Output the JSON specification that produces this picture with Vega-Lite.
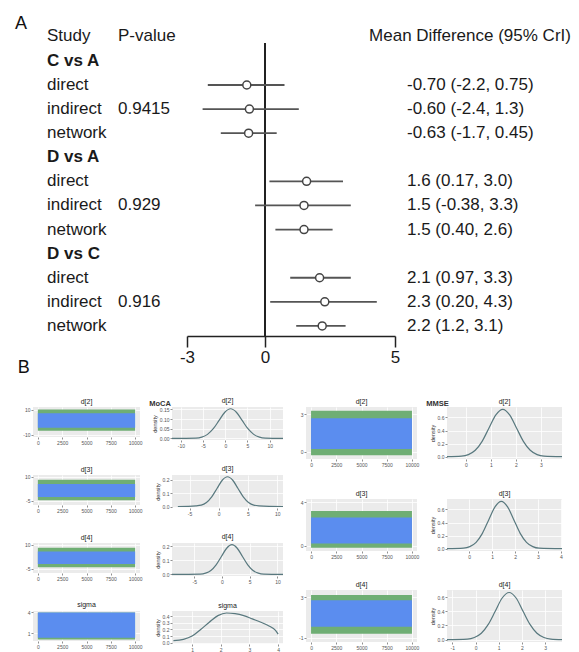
{
  "$schema": "https://vega.github.io/schema/vega-lite/v6.json",
  "padding": {"left": 15, "top": 15, "right": 5, "bottom": 0},
  "spacing": -6,
  "config": {
    "font": "Liberation Sans",
    "view": {"stroke": null},
    "title": {"fontSize": 7, "fontWeight": "normal", "color": "#222222", "offset": 2},
    "axis": {
      "grid": true, "gridColor": "#ffffff", "gridWidth": 0.8,
      "domain": false, "tickColor": "#444444", "tickSize": 2, "tickWidth": 0.6,
      "labelFontSize": 5, "labelColor": "#555555", "labelPadding": 1, "labelOverlap": false,
      "titleFontSize": 5.5, "titleColor": "#333333", "titleFontWeight": "normal", "titlePadding": 2
    }
  },
  "datasets": {
    "forest": [
      {"key": "CvA", "label": "C vs A", "kind": "header"},
      {"key": "CvA-d", "label": "direct", "kind": "item", "est": -0.70, "lo": -2.2, "hi": 0.75, "md": "-0.70 (-2.2, 0.75)"},
      {"key": "CvA-i", "label": "indirect", "kind": "item", "pval": "0.9415", "est": -0.60, "lo": -2.4, "hi": 1.3, "md": "-0.60 (-2.4, 1.3)"},
      {"key": "CvA-n", "label": "network", "kind": "item", "est": -0.63, "lo": -1.7, "hi": 0.45, "md": "-0.63 (-1.7, 0.45)"},
      {"key": "DvA", "label": "D vs A", "kind": "header"},
      {"key": "DvA-d", "label": "direct", "kind": "item", "est": 1.6, "lo": 0.17, "hi": 3.0, "md": "1.6 (0.17, 3.0)"},
      {"key": "DvA-i", "label": "indirect", "kind": "item", "pval": "0.929", "est": 1.5, "lo": -0.38, "hi": 3.3, "md": "1.5 (-0.38, 3.3)"},
      {"key": "DvA-n", "label": "network", "kind": "item", "est": 1.5, "lo": 0.40, "hi": 2.6, "md": "1.5 (0.40, 2.6)"},
      {"key": "DvC", "label": "D vs C", "kind": "header"},
      {"key": "DvC-d", "label": "direct", "kind": "item", "est": 2.1, "lo": 0.97, "hi": 3.3, "md": "2.1 (0.97, 3.3)"},
      {"key": "DvC-i", "label": "indirect", "kind": "item", "pval": "0.916", "est": 2.3, "lo": 0.20, "hi": 4.3, "md": "2.3 (0.20, 4.3)"},
      {"key": "DvC-n", "label": "network", "kind": "item", "est": 2.2, "lo": 1.2, "hi": 3.1, "md": "2.2 (1.2, 3.1)"}
    ],
    "trace": [
      {"panel": "MoCA d[2]", "x0": 0, "x1": 10000, "outerLo": -7, "outerHi": 10, "lo": -4.5, "hi": 7},
      {"panel": "MoCA d[3]", "x0": 0, "x1": 10000, "outerLo": -4.5, "outerHi": 8, "lo": -2.5, "hi": 5.5},
      {"panel": "MoCA d[4]", "x0": 0, "x1": 10000, "outerLo": -4, "outerHi": 8, "lo": -2, "hi": 5.8},
      {"panel": "MoCA sigma", "x0": 0, "x1": 10000, "outerLo": 0.1, "outerHi": 4.0, "lo": 0.35, "hi": 4.0},
      {"panel": "MMSE d[2]", "x0": 0, "x1": 10000, "outerLo": -0.3, "outerHi": 3.3, "lo": 0.2, "hi": 2.7},
      {"panel": "MMSE d[3]", "x0": 0, "x1": 10000, "outerLo": -0.2, "outerHi": 3.2, "lo": 0.2, "hi": 2.6},
      {"panel": "MMSE d[4]", "x0": 0, "x1": 10000, "outerLo": -0.6, "outerHi": 3.2, "lo": 0.1, "hi": 2.7}
    ],
    "density": [
      {"panel": "MoCA d[2]", "x": -12, "density": 0},
      {"panel": "MoCA d[2]", "x": -6.6, "density": 0.002},
      {"panel": "MoCA d[2]", "x": -5.3, "density": 0.007},
      {"panel": "MoCA d[2]", "x": -4, "density": 0.021},
      {"panel": "MoCA d[2]", "x": -2.7, "density": 0.05},
      {"panel": "MoCA d[2]", "x": -1.4, "density": 0.093},
      {"panel": "MoCA d[2]", "x": -0.1, "density": 0.135},
      {"panel": "MoCA d[2]", "x": 1.2, "density": 0.153},
      {"panel": "MoCA d[2]", "x": 2.5, "density": 0.135},
      {"panel": "MoCA d[2]", "x": 3.8, "density": 0.093},
      {"panel": "MoCA d[2]", "x": 5.1, "density": 0.05},
      {"panel": "MoCA d[2]", "x": 6.4, "density": 0.021},
      {"panel": "MoCA d[2]", "x": 7.7, "density": 0.007},
      {"panel": "MoCA d[2]", "x": 9, "density": 0.002},
      {"panel": "MoCA d[2]", "x": 13, "density": 0},
      {"panel": "MoCA d[3]", "x": -7, "density": 0},
      {"panel": "MoCA d[3]", "x": -3.9, "density": 0.005},
      {"panel": "MoCA d[3]", "x": -3.0, "density": 0.01},
      {"panel": "MoCA d[3]", "x": -2.1, "density": 0.03},
      {"panel": "MoCA d[3]", "x": -1.2, "density": 0.072},
      {"panel": "MoCA d[3]", "x": -0.3, "density": 0.134},
      {"panel": "MoCA d[3]", "x": 0.6, "density": 0.196},
      {"panel": "MoCA d[3]", "x": 1.5, "density": 0.222},
      {"panel": "MoCA d[3]", "x": 2.4, "density": 0.196},
      {"panel": "MoCA d[3]", "x": 3.3, "density": 0.134},
      {"panel": "MoCA d[3]", "x": 4.2, "density": 0.072},
      {"panel": "MoCA d[3]", "x": 5.1, "density": 0.03},
      {"panel": "MoCA d[3]", "x": 6.0, "density": 0.01},
      {"panel": "MoCA d[3]", "x": 6.9, "density": 0.005},
      {"panel": "MoCA d[3]", "x": 11, "density": 0},
      {"panel": "MoCA d[4]", "x": -9, "density": 0},
      {"panel": "MoCA d[4]", "x": -3.9, "density": 0.002},
      {"panel": "MoCA d[4]", "x": -2.95, "density": 0.009},
      {"panel": "MoCA d[4]", "x": -2.0, "density": 0.028},
      {"panel": "MoCA d[4]", "x": -1.05, "density": 0.068},
      {"panel": "MoCA d[4]", "x": -0.1, "density": 0.127},
      {"panel": "MoCA d[4]", "x": 0.85, "density": 0.185},
      {"panel": "MoCA d[4]", "x": 1.8, "density": 0.21},
      {"panel": "MoCA d[4]", "x": 2.75, "density": 0.185},
      {"panel": "MoCA d[4]", "x": 3.7, "density": 0.127},
      {"panel": "MoCA d[4]", "x": 4.65, "density": 0.068},
      {"panel": "MoCA d[4]", "x": 5.6, "density": 0.028},
      {"panel": "MoCA d[4]", "x": 6.55, "density": 0.009},
      {"panel": "MoCA d[4]", "x": 7.5, "density": 0.002},
      {"panel": "MoCA d[4]", "x": 11, "density": 0},
      {"panel": "MoCA sigma", "x": 0.35, "density": 0.03},
      {"panel": "MoCA sigma", "x": 0.7, "density": 0.05},
      {"panel": "MoCA sigma", "x": 1.0, "density": 0.1},
      {"panel": "MoCA sigma", "x": 1.3, "density": 0.2},
      {"panel": "MoCA sigma", "x": 1.6, "density": 0.31},
      {"panel": "MoCA sigma", "x": 1.9, "density": 0.41},
      {"panel": "MoCA sigma", "x": 2.2, "density": 0.45},
      {"panel": "MoCA sigma", "x": 2.5, "density": 0.44},
      {"panel": "MoCA sigma", "x": 2.8, "density": 0.41},
      {"panel": "MoCA sigma", "x": 3.1, "density": 0.36},
      {"panel": "MoCA sigma", "x": 3.4, "density": 0.31},
      {"panel": "MoCA sigma", "x": 3.7, "density": 0.25},
      {"panel": "MoCA sigma", "x": 3.9, "density": 0.19},
      {"panel": "MoCA sigma", "x": 4.0, "density": 0.13},
      {"panel": "MMSE d[2]", "x": -0.76, "density": 0.0005},
      {"panel": "MMSE d[2]", "x": -0.18, "density": 0.008},
      {"panel": "MMSE d[2]", "x": 0.095, "density": 0.032},
      {"panel": "MMSE d[2]", "x": 0.37, "density": 0.098},
      {"panel": "MMSE d[2]", "x": 0.645, "density": 0.235},
      {"panel": "MMSE d[2]", "x": 0.92, "density": 0.44},
      {"panel": "MMSE d[2]", "x": 1.195, "density": 0.64},
      {"panel": "MMSE d[2]", "x": 1.47, "density": 0.725},
      {"panel": "MMSE d[2]", "x": 1.745, "density": 0.64},
      {"panel": "MMSE d[2]", "x": 2.02, "density": 0.44},
      {"panel": "MMSE d[2]", "x": 2.295, "density": 0.235},
      {"panel": "MMSE d[2]", "x": 2.57, "density": 0.098},
      {"panel": "MMSE d[2]", "x": 2.845, "density": 0.032},
      {"panel": "MMSE d[2]", "x": 3.12, "density": 0.008},
      {"panel": "MMSE d[2]", "x": 3.84, "density": 0.0005},
      {"panel": "MMSE d[3]", "x": -0.97, "density": 0},
      {"panel": "MMSE d[3]", "x": -0.25, "density": 0.008},
      {"panel": "MMSE d[3]", "x": 0.025, "density": 0.032},
      {"panel": "MMSE d[3]", "x": 0.3, "density": 0.098},
      {"panel": "MMSE d[3]", "x": 0.575, "density": 0.235},
      {"panel": "MMSE d[3]", "x": 0.85, "density": 0.44},
      {"panel": "MMSE d[3]", "x": 1.125, "density": 0.64},
      {"panel": "MMSE d[3]", "x": 1.4, "density": 0.725},
      {"panel": "MMSE d[3]", "x": 1.675, "density": 0.64},
      {"panel": "MMSE d[3]", "x": 1.95, "density": 0.44},
      {"panel": "MMSE d[3]", "x": 2.225, "density": 0.235},
      {"panel": "MMSE d[3]", "x": 2.5, "density": 0.098},
      {"panel": "MMSE d[3]", "x": 2.775, "density": 0.032},
      {"panel": "MMSE d[3]", "x": 3.05, "density": 0.008},
      {"panel": "MMSE d[3]", "x": 4.05, "density": 0},
      {"panel": "MMSE d[4]", "x": -1.23, "density": 0},
      {"panel": "MMSE d[4]", "x": -0.35, "density": 0.007},
      {"panel": "MMSE d[4]", "x": -0.05, "density": 0.03},
      {"panel": "MMSE d[4]", "x": 0.25, "density": 0.09},
      {"panel": "MMSE d[4]", "x": 0.55, "density": 0.215},
      {"panel": "MMSE d[4]", "x": 0.85, "density": 0.4},
      {"panel": "MMSE d[4]", "x": 1.15, "density": 0.587},
      {"panel": "MMSE d[4]", "x": 1.45, "density": 0.665},
      {"panel": "MMSE d[4]", "x": 1.75, "density": 0.587},
      {"panel": "MMSE d[4]", "x": 2.05, "density": 0.4},
      {"panel": "MMSE d[4]", "x": 2.35, "density": 0.215},
      {"panel": "MMSE d[4]", "x": 2.65, "density": 0.09},
      {"panel": "MMSE d[4]", "x": 2.95, "density": 0.03},
      {"panel": "MMSE d[4]", "x": 3.25, "density": 0.007},
      {"panel": "MMSE d[4]", "x": 3.73, "density": 0}
    ]
  },
  "vconcat": [
    {
      "title": {"text": "A", "anchor": "start", "fontSize": 18, "color": "#111111", "dx": -18, "offset": -6},
      "bounds": "flush",
      "spacing": 12,
      "hconcat": [
        {
          "width": 73, "height": 293,
          "title": {"text": "Study", "anchor": "start", "fontSize": 17, "color": "#1a1a1a", "dx": 14, "offset": -2},
          "data": {"name": "forest"},
          "encoding": {
            "y": {"field": "key", "type": "nominal", "scale": {"type": "point", "domain": ["CvA", "CvA-d", "CvA-i", "CvA-n", "DvA", "DvA-d", "DvA-i", "DvA-n", "DvC", "DvC-d", "DvC-i", "DvC-n"], "padding": 0.58, "align": 0.64}, "axis": null},
            "x": {"datum": 0, "type": "quantitative", "scale": {"domain": [0, 1]}, "axis": null},
            "text": {"field": "label"}
          },
          "layer": [
            {"transform": [{"filter": "datum.kind === 'header'"}], "mark": {"type": "text", "align": "left", "baseline": "middle", "dx": 14, "fontSize": 17, "fontWeight": "bold", "color": "#1a1a1a"}},
            {"transform": [{"filter": "datum.kind === 'item'"}], "mark": {"type": "text", "align": "left", "baseline": "middle", "dx": 14, "fontSize": 17, "color": "#1a1a1a"}}
          ]
        },
        {
          "width": 57, "height": 293,
          "title": {"text": "P-value", "anchor": "start", "fontSize": 17, "color": "#1a1a1a", "offset": -2},
          "data": {"name": "forest"},
          "transform": [{"filter": "isValid(datum.pval)"}],
          "mark": {"type": "text", "align": "left", "baseline": "middle", "fontSize": 17, "color": "#1a1a1a"},
          "encoding": {
            "y": {"field": "key", "type": "nominal", "scale": {"type": "point", "domain": ["CvA", "CvA-d", "CvA-i", "CvA-n", "DvA", "DvA-d", "DvA-i", "DvA-n", "DvC", "DvC-d", "DvC-i", "DvC-n"], "padding": 0.58, "align": 0.64}, "axis": null},
            "x": {"datum": 0, "type": "quantitative", "scale": {"domain": [0, 1]}, "axis": null},
            "text": {"field": "pval"}
          }
        },
        {
          "width": 208, "height": 293,
          "data": {"name": "forest"},
          "layer": [
            {
              "mark": {"type": "rule", "color": "#222222", "strokeWidth": 1.5},
              "encoding": {
                "x": {"datum": 0, "type": "quantitative", "scale": {"domain": [-3, 5], "nice": false, "zero": false},
                  "axis": {"values": [-3, 0, 5], "labelExpr": "'' + datum.value", "grid": false, "domain": true, "domainColor": "#222222", "domainWidth": 1.5, "tickColor": "#222222", "tickWidth": 1.5, "tickSize": 11, "labelFontSize": 17, "labelColor": "#1a1a1a", "labelPadding": 2, "labelFlush": false, "title": null}}
              }
            },
            {
              "transform": [{"filter": "datum.kind === 'item'"}],
              "mark": {"type": "rule", "color": "#555555", "strokeWidth": 1.8},
              "encoding": {
                "y": {"field": "key", "type": "nominal", "scale": {"type": "point", "domain": ["CvA", "CvA-d", "CvA-i", "CvA-n", "DvA", "DvA-d", "DvA-i", "DvA-n", "DvC", "DvC-d", "DvC-i", "DvC-n"], "padding": 0.58, "align": 0.64}, "axis": null},
                "x": {"field": "lo", "type": "quantitative"},
                "x2": {"field": "hi"}
              }
            },
            {
              "transform": [{"filter": "datum.kind === 'item'"}],
              "mark": {"type": "point", "shape": "circle", "filled": true, "fill": "#ffffff", "stroke": "#444444", "strokeWidth": 1.5, "size": 64, "opacity": 1},
              "encoding": {
                "y": {"field": "key", "type": "nominal", "axis": null},
                "x": {"field": "est", "type": "quantitative"}
              }
            }
          ]
        },
        {
          "width": 126, "height": 293,
          "title": {"text": "Mean Difference (95% CrI)", "anchor": "middle", "fontSize": 17, "color": "#1a1a1a", "offset": -2},
          "data": {"name": "forest"},
          "transform": [{"filter": "datum.kind === 'item'"}],
          "mark": {"type": "text", "align": "left", "baseline": "middle", "fontSize": 17, "color": "#1a1a1a"},
          "encoding": {
            "y": {"field": "key", "type": "nominal", "scale": {"type": "point", "domain": ["CvA", "CvA-d", "CvA-i", "CvA-n", "DvA", "DvA-d", "DvA-i", "DvA-n", "DvC", "DvC-d", "DvC-i", "DvC-n"], "padding": 0.58, "align": 0.64}, "axis": null},
            "x": {"datum": 0, "type": "quantitative", "scale": {"domain": [0, 1]}, "axis": null},
            "text": {"field": "md"}
          }
        }
      ]
    },
    {
      "title": {"text": "B", "anchor": "start", "fontSize": 18, "color": "#111111", "dx": -5, "offset": 20},
      "spacing": 12,
      "hconcat": [
        {
          "title": {"text": "MoCA", "anchor": "middle", "dx": 6, "fontSize": 7.5, "fontWeight": "bold", "color": "#333333", "offset": -10},
          "spacing": 17,
          "vconcat": [
            {
              "bounds": "flush", "spacing": 32,
              "hconcat": [
                {
                  "width": 107, "height": 30, "view": {"fill": "#ebebeb"},
                  "title": "d[2]",
                  "data": {"name": "trace"},
                  "transform": [{"filter": "datum.panel === 'MoCA d[2]'"}],
                  "encoding": {
                    "x": {"field": "x0", "type": "quantitative", "scale": {"domain": [-500, 10500], "nice": false}, "axis": {"values": [0, 2500, 5000, 7500, 10000], "format": "d", "title": null}},
                    "x2": {"field": "x1"}
                  },
                  "layer": [
                    {"mark": {"type": "rect", "color": "#6fae74"}, "encoding": {"y": {"field": "outerLo", "type": "quantitative", "scale": {"domain": [-12, 12], "nice": false, "zero": false}, "axis": {"values": [-10, -5, 0, 5, 10], "labelExpr": "'' + datum.value", "title": null}}, "y2": {"field": "outerHi"}}},
                    {"mark": {"type": "rect", "color": "#5b8def"}, "encoding": {"y": {"field": "lo", "type": "quantitative", "title": null}, "y2": {"field": "hi"}}}
                  ]
                },
                {
                  "width": 111, "height": 33, "view": {"fill": "#ebebeb"},
                  "title": "d[2]",
                  "data": {"name": "density"},
                  "transform": [{"filter": "datum.panel === 'MoCA d[2]'"}],
                  "mark": {"type": "line", "interpolate": "monotone", "color": "#58787e", "strokeWidth": 1.2},
                  "encoding": {
                    "x": {"field": "x", "type": "quantitative", "scale": {"domain": [-12, 13], "nice": false, "zero": false}, "axis": {"values": [-10, -5, 0, 5, 10], "labelExpr": "'' + datum.value", "title": null}},
                    "y": {"field": "density", "type": "quantitative", "scale": {"domain": [-0.008, 0.162], "nice": false, "zero": false}, "axis": {"values": [0, 0.05, 0.1, 0.15], "format": ".2f", "title": "density"}}
                  }
                }
              ]
            },
            {
              "bounds": "flush", "spacing": 32,
              "hconcat": [
                {
                  "width": 107, "height": 30, "view": {"fill": "#ebebeb"},
                  "title": "d[3]",
                  "data": {"name": "trace"},
                  "transform": [{"filter": "datum.panel === 'MoCA d[3]'"}],
                  "encoding": {
                    "x": {"field": "x0", "type": "quantitative", "scale": {"domain": [-500, 10500], "nice": false}, "axis": {"values": [0, 2500, 5000, 7500, 10000], "format": "d", "title": null}},
                    "x2": {"field": "x1"}
                  },
                  "layer": [
                    {"mark": {"type": "rect", "color": "#6fae74"}, "encoding": {"y": {"field": "outerLo", "type": "quantitative", "scale": {"domain": [-7.5, 11], "nice": false, "zero": false}, "axis": {"values": [-5, 0, 5, 10], "labelExpr": "'' + datum.value", "title": null}}, "y2": {"field": "outerHi"}}},
                    {"mark": {"type": "rect", "color": "#5b8def"}, "encoding": {"y": {"field": "lo", "type": "quantitative", "title": null}, "y2": {"field": "hi"}}}
                  ]
                },
                {
                  "width": 111, "height": 33, "view": {"fill": "#ebebeb"},
                  "title": "d[3]",
                  "data": {"name": "density"},
                  "transform": [{"filter": "datum.panel === 'MoCA d[3]'"}],
                  "mark": {"type": "line", "interpolate": "monotone", "color": "#58787e", "strokeWidth": 1.2},
                  "encoding": {
                    "x": {"field": "x", "type": "quantitative", "scale": {"domain": [-8, 11], "nice": false, "zero": false}, "axis": {"values": [-5, 0, 5, 10], "labelExpr": "'' + datum.value", "title": null}},
                    "y": {"field": "density", "type": "quantitative", "scale": {"domain": [-0.011, 0.235], "nice": false, "zero": false}, "axis": {"values": [0, 0.1, 0.2], "format": ".1f", "title": "density"}}
                  }
                }
              ]
            },
            {
              "bounds": "flush", "spacing": 32,
              "hconcat": [
                {
                  "width": 107, "height": 30, "view": {"fill": "#ebebeb"},
                  "title": "d[4]",
                  "data": {"name": "trace"},
                  "transform": [{"filter": "datum.panel === 'MoCA d[4]'"}],
                  "encoding": {
                    "x": {"field": "x0", "type": "quantitative", "scale": {"domain": [-500, 10500], "nice": false}, "axis": {"values": [0, 2500, 5000, 7500, 10000], "format": "d", "title": null}},
                    "x2": {"field": "x1"}
                  },
                  "layer": [
                    {"mark": {"type": "rect", "color": "#6fae74"}, "encoding": {"y": {"field": "outerLo", "type": "quantitative", "scale": {"domain": [-7.5, 11], "nice": false, "zero": false}, "axis": {"values": [-5, 0, 5, 10], "labelExpr": "'' + datum.value", "title": null}}, "y2": {"field": "outerHi"}}},
                    {"mark": {"type": "rect", "color": "#5b8def"}, "encoding": {"y": {"field": "lo", "type": "quantitative", "title": null}, "y2": {"field": "hi"}}}
                  ]
                },
                {
                  "width": 111, "height": 33, "view": {"fill": "#ebebeb"},
                  "title": "d[4]",
                  "data": {"name": "density"},
                  "transform": [{"filter": "datum.panel === 'MoCA d[4]'"}],
                  "mark": {"type": "line", "interpolate": "monotone", "color": "#58787e", "strokeWidth": 1.2},
                  "encoding": {
                    "x": {"field": "x", "type": "quantitative", "scale": {"domain": [-9, 11], "nice": false, "zero": false}, "axis": {"values": [-5, 0, 5, 10], "labelExpr": "'' + datum.value", "title": null}},
                    "y": {"field": "density", "type": "quantitative", "scale": {"domain": [-0.011, 0.222], "nice": false, "zero": false}, "axis": {"values": [0, 0.1, 0.2], "format": ".1f", "title": "density"}}
                  }
                }
              ]
            },
            {
              "bounds": "flush", "spacing": 32,
              "hconcat": [
                {
                  "width": 107, "height": 30, "view": {"fill": "#ebebeb"},
                  "title": "sigma",
                  "data": {"name": "trace"},
                  "transform": [{"filter": "datum.panel === 'MoCA sigma'"}],
                  "encoding": {
                    "x": {"field": "x0", "type": "quantitative", "scale": {"domain": [-500, 10500], "nice": false}, "axis": {"values": [0, 2500, 5000, 7500, 10000], "format": "d", "title": null}},
                    "x2": {"field": "x1"}
                  },
                  "layer": [
                    {"mark": {"type": "rect", "color": "#6fae74"}, "encoding": {"y": {"field": "outerLo", "type": "quantitative", "scale": {"domain": [-0.1, 4.2], "nice": false, "zero": false}, "axis": {"values": [1, 2, 3, 4], "title": null}}, "y2": {"field": "outerHi"}}},
                    {"mark": {"type": "rect", "color": "#5b8def"}, "encoding": {"y": {"field": "lo", "type": "quantitative", "title": null}, "y2": {"field": "hi"}}}
                  ]
                },
                {
                  "width": 111, "height": 33, "view": {"fill": "#ebebeb"},
                  "title": "sigma",
                  "data": {"name": "density"},
                  "transform": [{"filter": "datum.panel === 'MoCA sigma'"}],
                  "mark": {"type": "line", "interpolate": "monotone", "color": "#58787e", "strokeWidth": 1.2},
                  "encoding": {
                    "x": {"field": "x", "type": "quantitative", "scale": {"domain": [0.3, 4.17], "nice": false, "zero": false}, "axis": {"values": [1, 2, 3, 4], "title": null}},
                    "y": {"field": "density", "type": "quantitative", "scale": {"domain": [-0.02, 0.48], "nice": false, "zero": false}, "axis": {"values": [0, 0.1, 0.2, 0.3, 0.4], "format": ".1f", "title": "density"}}
                  }
                }
              ]
            }
          ]
        },
        {
          "title": {"text": "MMSE", "anchor": "middle", "dx": 6, "fontSize": 7.5, "fontWeight": "bold", "color": "#333333", "offset": -10},
          "spacing": 22,
          "vconcat": [
            {
              "bounds": "flush", "spacing": 30,
              "hconcat": [
                {
                  "width": 111, "height": 52, "view": {"fill": "#ebebeb"},
                  "title": "d[2]",
                  "data": {"name": "trace"},
                  "transform": [{"filter": "datum.panel === 'MMSE d[2]'"}],
                  "encoding": {
                    "x": {"field": "x0", "type": "quantitative", "scale": {"domain": [-500, 10500], "nice": false}, "axis": {"values": [0, 2500, 5000, 7500, 10000], "format": "d", "title": null}},
                    "x2": {"field": "x1"}
                  },
                  "layer": [
                    {"mark": {"type": "rect", "color": "#6fae74"}, "encoding": {"y": {"field": "outerLo", "type": "quantitative", "scale": {"domain": [-0.6, 3.6], "nice": false, "zero": false}, "axis": {"values": [0, 1, 2, 3], "title": null}}, "y2": {"field": "outerHi"}}},
                    {"mark": {"type": "rect", "color": "#5b8def"}, "encoding": {"y": {"field": "lo", "type": "quantitative", "title": null}, "y2": {"field": "hi"}}}
                  ]
                },
                {
                  "width": 115, "height": 52, "view": {"fill": "#ebebeb"},
                  "title": "d[2]",
                  "data": {"name": "density"},
                  "transform": [{"filter": "datum.panel === 'MMSE d[2]'"}],
                  "mark": {"type": "line", "interpolate": "monotone", "color": "#58787e", "strokeWidth": 1.2},
                  "encoding": {
                    "x": {"field": "x", "type": "quantitative", "scale": {"domain": [-0.76, 3.84], "nice": false, "zero": false}, "axis": {"values": [0, 1, 2, 3], "title": null}},
                    "y": {"field": "density", "type": "quantitative", "scale": {"domain": [-0.035, 0.76], "nice": false, "zero": false}, "axis": {"values": [0, 0.2, 0.4, 0.6], "format": ".1f", "title": "density"}}
                  }
                }
              ]
            },
            {
              "bounds": "flush", "spacing": 30,
              "hconcat": [
                {
                  "width": 111, "height": 52, "view": {"fill": "#ebebeb"},
                  "title": "d[3]",
                  "data": {"name": "trace"},
                  "transform": [{"filter": "datum.panel === 'MMSE d[3]'"}],
                  "encoding": {
                    "x": {"field": "x0", "type": "quantitative", "scale": {"domain": [-500, 10500], "nice": false}, "axis": {"values": [0, 2500, 5000, 7500, 10000], "format": "d", "title": null}},
                    "x2": {"field": "x1"}
                  },
                  "layer": [
                    {"mark": {"type": "rect", "color": "#6fae74"}, "encoding": {"y": {"field": "outerLo", "type": "quantitative", "scale": {"domain": [-0.5, 4.3], "nice": false, "zero": false}, "axis": {"values": [0, 1, 2, 3, 4], "title": null}}, "y2": {"field": "outerHi"}}},
                    {"mark": {"type": "rect", "color": "#5b8def"}, "encoding": {"y": {"field": "lo", "type": "quantitative", "title": null}, "y2": {"field": "hi"}}}
                  ]
                },
                {
                  "width": 115, "height": 52, "view": {"fill": "#ebebeb"},
                  "title": "d[3]",
                  "data": {"name": "density"},
                  "transform": [{"filter": "datum.panel === 'MMSE d[3]'"}],
                  "mark": {"type": "line", "interpolate": "monotone", "color": "#58787e", "strokeWidth": 1.2},
                  "encoding": {
                    "x": {"field": "x", "type": "quantitative", "scale": {"domain": [-0.97, 4.05], "nice": false, "zero": false}, "axis": {"values": [0, 1, 2, 3, 4], "title": null}},
                    "y": {"field": "density", "type": "quantitative", "scale": {"domain": [-0.035, 0.76], "nice": false, "zero": false}, "axis": {"values": [0, 0.2, 0.4, 0.6], "format": ".1f", "title": "density"}}
                  }
                }
              ]
            },
            {
              "bounds": "flush", "spacing": 30,
              "hconcat": [
                {
                  "width": 111, "height": 52, "view": {"fill": "#ebebeb"},
                  "title": "d[4]",
                  "data": {"name": "trace"},
                  "transform": [{"filter": "datum.panel === 'MMSE d[4]'"}],
                  "encoding": {
                    "x": {"field": "x0", "type": "quantitative", "scale": {"domain": [-500, 10500], "nice": false}, "axis": {"values": [0, 2500, 5000, 7500, 10000], "format": "d", "title": null}},
                    "x2": {"field": "x1"}
                  },
                  "layer": [
                    {"mark": {"type": "rect", "color": "#6fae74"}, "encoding": {"y": {"field": "outerLo", "type": "quantitative", "scale": {"domain": [-1.4, 3.7], "nice": false, "zero": false}, "axis": {"values": [-1, 0, 1, 2, 3], "labelExpr": "'' + datum.value", "title": null}}, "y2": {"field": "outerHi"}}},
                    {"mark": {"type": "rect", "color": "#5b8def"}, "encoding": {"y": {"field": "lo", "type": "quantitative", "title": null}, "y2": {"field": "hi"}}}
                  ]
                },
                {
                  "width": 115, "height": 52, "view": {"fill": "#ebebeb"},
                  "title": "d[4]",
                  "data": {"name": "density"},
                  "transform": [{"filter": "datum.panel === 'MMSE d[4]'"}],
                  "mark": {"type": "line", "interpolate": "monotone", "color": "#58787e", "strokeWidth": 1.2},
                  "encoding": {
                    "x": {"field": "x", "type": "quantitative", "scale": {"domain": [-1.23, 3.73], "nice": false, "zero": false}, "axis": {"values": [-1, 0, 1, 2, 3], "labelExpr": "'' + datum.value", "title": null}},
                    "y": {"field": "density", "type": "quantitative", "scale": {"domain": [-0.033, 0.7], "nice": false, "zero": false}, "axis": {"values": [0, 0.2, 0.4, 0.6], "format": ".1f", "title": "density"}}
                  }
                }
              ]
            }
          ]
        }
      ]
    }
  ]
}
